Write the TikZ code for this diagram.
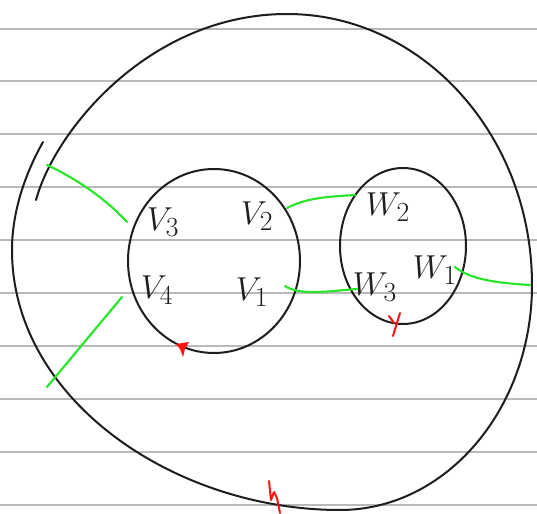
\documentclass[tikz,border=0pt]{standalone}
\usetikzlibrary{shapes.geometric}
\definecolor{ruleclr}{RGB}{185,185,185}
\definecolor{inkclr}{RGB}{30,30,30}
\definecolor{grn}{RGB}{40,230,40}
\definecolor{redink}{RGB}{250,20,20}
\begin{document}
\begin{tikzpicture}[x=0.75pt,y=-0.75pt,
  ruled/.style={draw=ruleclr,line width=0.8pt},
  ink/.style={draw=inkclr,line width=1.5pt,line cap=round,line join=round},
  glink/.style={draw=grn,line width=1.6pt,line cap=round},
  rmark/.style={draw=redink,line width=1.5pt,line cap=round,line join=round},
  lbl/.style={font=\fontsize{32}{34}\selectfont,inner sep=0pt,text=inkclr},
  blob/.style={ellipse,ink,inner sep=0pt}]
\useasboundingbox (0,0) rectangle (537,514);
\fill[white] (0,0) rectangle (537,514);
% ruled paper
\foreach \yy in {29,81,134,187,240,293,346,399,452,505}
  \draw[ruled] (0,\yy) -- (537,\yy);
% outer boundary (one stroke, its two ends overlapping at upper left)
\coordinate (ostart) at (36,200);
\coordinate (otop) at (287,14);
\coordinate (oright) at (532,285);
\coordinate (obot) at (340,510);
\coordinate (oleft) at (12,250);
\coordinate (oend) at (43,142);
\draw[ink] (ostart) .. controls (55,130) and (150,14) .. (otop)
  .. controls (422,14) and (532,135) .. (oright)
  .. controls (532,409) and (446,510) .. (obot)
  .. controls (175,510) and (12,400) .. (oleft)
  .. controls (12,205) and (30,165) .. (oend);
% inner regions
\node[blob,minimum width=129pt,minimum height=138pt] (V) at (214,261) {};
\node[blob,minimum width=94.5pt,minimum height=117pt] (W) at (403,246) {};
% labels
\node[lbl] (v3) at (163,222) {$V_3$};
\node[lbl] (v2) at (257,216) {$V_2$};
\node[lbl] (v4) at (157,290) {$V_4$};
\node[lbl] (v1) at (252,292) {$V_1$};
\node[lbl] (w2) at (388,207) {$W_2$};
\node[lbl] (w1) at (435,270) {$W_1$};
\node[lbl] (w3) at (375,287) {$W_3$};
% connector end points
\coordinate (a1) at (47,165);  \coordinate (a2) at (127,222);
\coordinate (b1) at (47,387);  \coordinate (b2) at (122,297);
\coordinate (c1) at (287,208); \coordinate (c2) at (355,195);
\coordinate (d1) at (285,286); \coordinate (d2) at (357,289);
\coordinate (e1) at (455,267); \coordinate (e2) at (530,285);
% green connectors
\draw[glink] (a1) .. controls (75,178) and (105,198) .. (a2);
\draw[glink] (b1) -- (b2);
\draw[glink] (c1) .. controls (305,199) and (320,197) .. (c2);
\draw[glink] (d1) .. controls (300,296) and (330,291) .. (d2);
\draw[glink] (e1) .. controls (470,279) and (495,283) .. (e2);
% red marks
\fill[redink] (176,344) -- (189,342) -- (185,349) -- (183,357) -- (180,349) -- cycle;
\draw[rmark] (389,316) -- (394,323);
\draw[rmark] (400,313) -- (393,336);
\draw[rmark] (269,481) -- (271,500) -- (274,492) -- (277,498) -- (280,513);
\end{tikzpicture}
\end{document}
